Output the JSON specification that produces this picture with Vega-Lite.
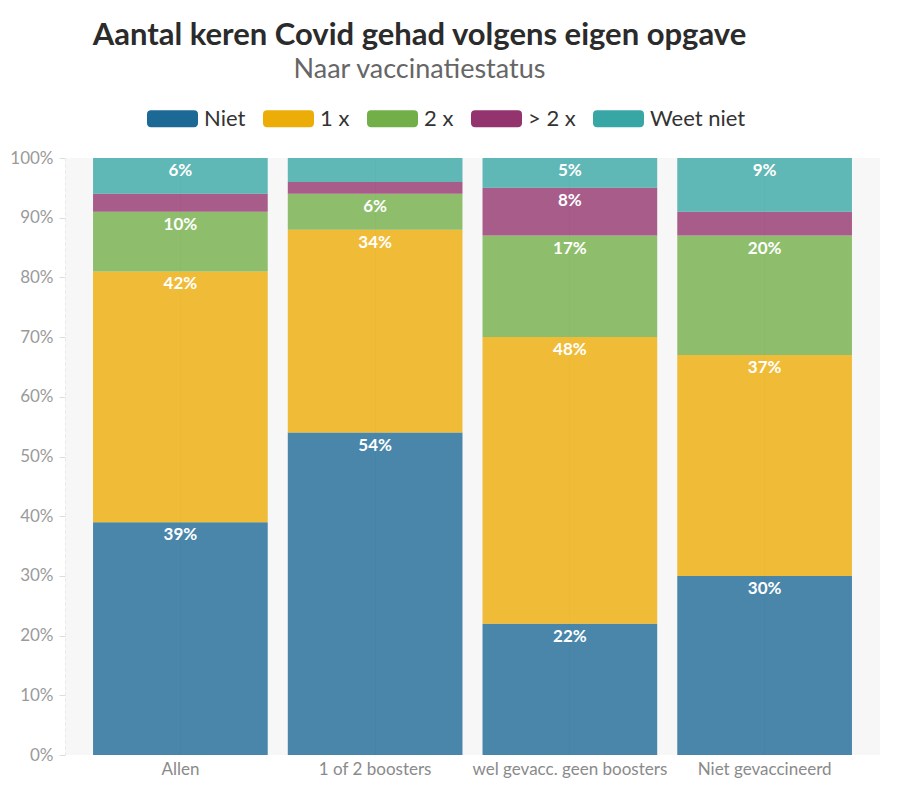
{
  "$schema": "https://vega.github.io/schema/vega-lite/v6.json",
  "autosize": {"type": "none"},
  "width": 815,
  "height": 597,
  "padding": {"left": 65, "top": 158, "right": 19, "bottom": 42},
  "background": "white",
  "title": {
    "text": "Aantal keren Covid gehad volgens eigen opgave",
    "subtitle": "Naar vaccinatiestatus",
    "anchor": "middle",
    "dx": -53,
    "offset": 9,
    "font": "Lato",
    "fontSize": 31,
    "fontWeight": "bold",
    "color": "#2b2b2b",
    "subtitleFont": "Lato",
    "subtitleFontSize": 27,
    "subtitleColor": "#666666",
    "subtitlePadding": 5
  },
  "config": {
    "view": {"fill": "#f7f7f7", "stroke": null},
    "font": "Lato"
  },
  "data": {
    "values": [
      {"group": "Allen", "cat": "Niet", "order": 1, "value": 0.39},
      {"group": "Allen", "cat": "1 x", "order": 2, "value": 0.42},
      {"group": "Allen", "cat": "2 x", "order": 3, "value": 0.10},
      {"group": "Allen", "cat": "> 2 x", "order": 4, "value": 0.03},
      {"group": "Allen", "cat": "Weet niet", "order": 5, "value": 0.06},
      {"group": "1 of 2 boosters", "cat": "Niet", "order": 1, "value": 0.54},
      {"group": "1 of 2 boosters", "cat": "1 x", "order": 2, "value": 0.34},
      {"group": "1 of 2 boosters", "cat": "2 x", "order": 3, "value": 0.06},
      {"group": "1 of 2 boosters", "cat": "> 2 x", "order": 4, "value": 0.02},
      {"group": "1 of 2 boosters", "cat": "Weet niet", "order": 5, "value": 0.04},
      {"group": "wel gevacc. geen boosters", "cat": "Niet", "order": 1, "value": 0.22},
      {"group": "wel gevacc. geen boosters", "cat": "1 x", "order": 2, "value": 0.48},
      {"group": "wel gevacc. geen boosters", "cat": "2 x", "order": 3, "value": 0.17},
      {"group": "wel gevacc. geen boosters", "cat": "> 2 x", "order": 4, "value": 0.08},
      {"group": "wel gevacc. geen boosters", "cat": "Weet niet", "order": 5, "value": 0.05},
      {"group": "Niet gevaccineerd", "cat": "Niet", "order": 1, "value": 0.30},
      {"group": "Niet gevaccineerd", "cat": "1 x", "order": 2, "value": 0.37},
      {"group": "Niet gevaccineerd", "cat": "2 x", "order": 3, "value": 0.20},
      {"group": "Niet gevaccineerd", "cat": "> 2 x", "order": 4, "value": 0.04},
      {"group": "Niet gevaccineerd", "cat": "Weet niet", "order": 5, "value": 0.09}
    ]
  },
  "transform": [
    {"stack": "value", "groupby": ["group"], "sort": [{"field": "order", "order": "ascending"}], "as": ["v0", "v1"]}
  ],
  "encoding": {
    "x": {
      "field": "group",
      "type": "nominal",
      "sort": ["Allen", "1 of 2 boosters", "wel gevacc. geen boosters", "Niet gevaccineerd"],
      "scale": {"paddingInner": 0.103, "paddingOuter": 0.144},
      "axis": {
        "title": null,
        "labelAngle": 0,
        "labelFontSize": 17,
        "labelColor": "#8a8a8a",
        "labelPadding": 6,
        "labelLimit": 0,
        "ticks": false,
        "domain": false,
        "grid": true,
        "gridColor": "#ebebeb"
      }
    },
    "y": {
      "field": "v1",
      "type": "quantitative",
      "scale": {"domain": [0, 1]},
      "axis": {
        "title": null,
        "format": ".0%",
        "values": [0, 0.1, 0.2, 0.3, 0.4, 0.5, 0.6, 0.7, 0.8, 0.9, 1],
        "labelOverlap": false,
        "labelFontSize": 17,
        "labelColor": "#9a9a9a",
        "labelPadding": 6,
        "tickColor": "#dddddd",
        "tickSize": 6,
        "domainColor": "#e8e8e8",
        "domainDash": [3, 3],
        "grid": false
      }
    }
  },
  "layer": [
    {
      "mark": {"type": "bar", "opacity": 0.8},
      "encoding": {
        "y2": {"field": "v0"},
        "color": {
          "field": "cat",
          "type": "nominal",
          "sort": ["Niet", "1 x", "2 x", "> 2 x", "Weet niet"],
          "scale": {
            "domain": ["Niet", "1 x", "2 x", "> 2 x", "Weet niet"],
            "range": ["#1d6996", "#edad08", "#73af48", "#94346e", "#38a6a5"]
          },
          "legend": {
            "title": null,
            "orient": "none",
            "direction": "horizontal",
            "legendX": 82,
            "legendY": -65,
            "labelFontSize": 22,
            "labelColor": "#333333",
            "labelFont": "Lato",
            "symbolType": "M-0.84,-0.333 H0.84 Q1,-0.333 1,-0.17 V0.17 Q1,0.333 0.84,0.333 H-0.84 Q-1,0.333 -1,0.17 V-0.17 Q-1,-0.333 -0.84,-0.333 Z",
            "symbolSize": 2601,
            "symbolOpacity": 1,
            "symbolStrokeWidth": 0,
            "labelOffset": 6,
            "columnPadding": 17
          }
        }
      }
    },
    {
      "transform": [{"filter": "datum.value >= 0.05"}],
      "mark": {"type": "text", "color": "white", "fontWeight": "bold", "fontSize": 17, "baseline": "middle", "dy": 13, "font": "Lato"},
      "encoding": {
        "text": {"field": "value", "type": "quantitative", "format": ".0%"}
      }
    }
  ]
}
